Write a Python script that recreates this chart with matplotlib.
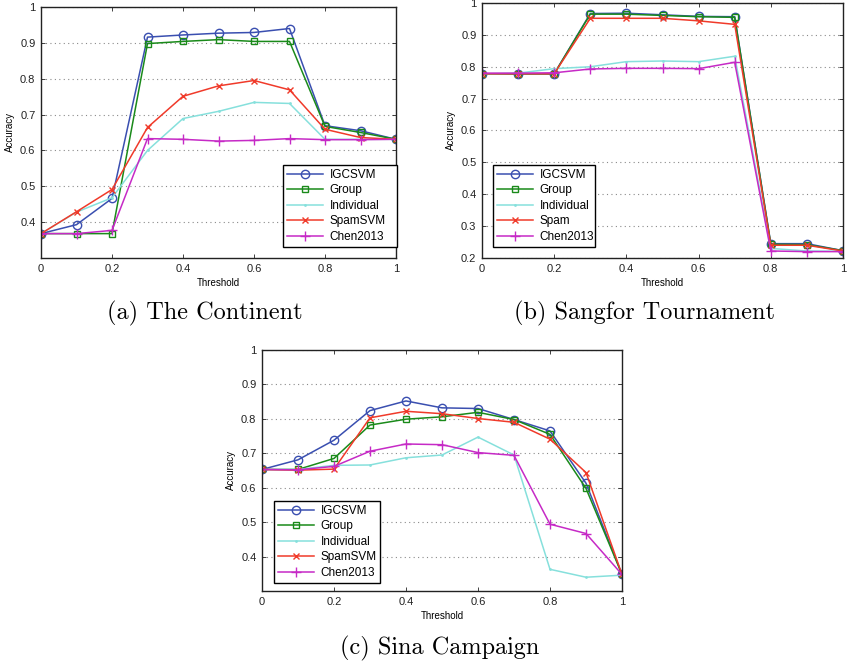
import matplotlib
matplotlib.use("Agg")
import matplotlib.pyplot as plt
import numpy as np

thresholds = [0.0, 0.1, 0.2, 0.3, 0.4, 0.5, 0.6, 0.7, 0.8, 0.9, 1.0]

# (a) The Continent
a_igcsvm = [0.368, 0.393, 0.466, 0.916, 0.922, 0.927, 0.929, 0.940, 0.669, 0.655, 0.631]
a_group = [0.368, 0.368, 0.368, 0.898, 0.904, 0.909, 0.904, 0.904, 0.667, 0.650, 0.631]
a_indiv = [0.368, 0.428, 0.468, 0.600, 0.689, 0.709, 0.734, 0.731, 0.631, 0.631, 0.631]
a_spam = [0.368, 0.429, 0.491, 0.664, 0.751, 0.780, 0.795, 0.769, 0.659, 0.636, 0.631]
a_chen = [0.368, 0.368, 0.377, 0.633, 0.631, 0.626, 0.628, 0.633, 0.630, 0.630, 0.631]

# (b) Sangfor Tournament
b_igcsvm = [0.778, 0.778, 0.778, 0.967, 0.968, 0.963, 0.958, 0.957, 0.245, 0.245, 0.223]
b_group = [0.778, 0.778, 0.778, 0.965, 0.965, 0.961, 0.957, 0.955, 0.243, 0.242, 0.223]
b_indiv = [0.778, 0.780, 0.794, 0.800, 0.816, 0.818, 0.816, 0.833, 0.230, 0.222, 0.221]
b_spam = [0.778, 0.778, 0.778, 0.952, 0.952, 0.952, 0.944, 0.933, 0.240, 0.240, 0.222]
b_chen = [0.780, 0.780, 0.781, 0.793, 0.795, 0.795, 0.794, 0.814, 0.222, 0.220, 0.220]

# (c) Sina Campaign
c_igcsvm = [0.653, 0.681, 0.738, 0.824, 0.852, 0.832, 0.830, 0.798, 0.765, 0.613, 0.348]
c_group = [0.653, 0.653, 0.685, 0.782, 0.799, 0.806, 0.819, 0.798, 0.755, 0.598, 0.348]
c_indiv = [0.653, 0.653, 0.665, 0.666, 0.687, 0.695, 0.747, 0.695, 0.363, 0.340, 0.346]
c_spam = [0.653, 0.651, 0.654, 0.803, 0.822, 0.815, 0.801, 0.790, 0.741, 0.644, 0.348]
c_chen = [0.653, 0.652, 0.662, 0.706, 0.727, 0.725, 0.702, 0.694, 0.494, 0.467, 0.348]

labels_ac = ["IGCSVM", "Group", "Individual", "SpamSVM", "Chen2013"]
labels_b = ["IGCSVM", "Group", "Individual", "Spam", "Chen2013"]
captions = ["(a) The Continent", "(b) Sangfor Tournament", "(c) Sina Campaign"]

colors = ["#3a4fb0", "#1a8a1a", "#86e0dc", "#f03a2a", "#c62ac6"]
markers = ["o", "s", ".", "x", "+"]
msizes = [6, 5, 2, 5, 7]

plt.rcParams["font.family"] = ["Liberation Sans", "DejaVu Sans"]

fig = plt.figure(figsize=(8.48, 6.64), dpi=100)

W, H = 848.0, 664.0
def rect(l, r, t, b):
    return [l / W, 1 - b / H, (r - l) / W, (b - t) / H]

panels = [
    dict(rect=rect(41, 396, 7, 258), ylim=(0.3, 1.0), yticks=np.arange(0.4, 1.01, 0.1),
         series=[a_igcsvm, a_group, a_indiv, a_spam, a_chen], labels=labels_ac,
         leg=rect(283, 397, 163, 247), cap=(205, 313)),
    dict(rect=rect(482, 843, 3, 258), ylim=(0.2, 1.0), yticks=np.arange(0.2, 1.01, 0.1),
         series=[b_igcsvm, b_group, b_indiv, b_spam, b_chen], labels=labels_b,
         leg=rect(493, 595, 163, 247), cap=(645, 313)),
    dict(rect=rect(262, 622, 350, 591), ylim=(0.3, 1.0), yticks=np.arange(0.4, 1.01, 0.1),
         series=[c_igcsvm, c_group, c_indiv, c_spam, c_chen], labels=labels_ac,
         leg=rect(274, 380, 500, 583), cap=(440, 648)),
]

for p, cap in zip(panels, captions):
    ax = fig.add_axes(p["rect"])
    for s, lab, col, mk, ms in zip(p["series"], p["labels"], colors, markers, msizes):
        ax.plot(thresholds, s, color=col, marker=mk, markersize=ms, markerfacecolor="none",
                markeredgecolor=col, markeredgewidth=1.0, linewidth=1.1, label=lab)
    ax.set_xlim(0, 1)
    ax.set_ylim(*p["ylim"])
    ax.set_xticks(np.arange(0, 1.01, 0.2))
    ax.set_xticklabels(["0", "0.2", "0.4", "0.6", "0.8", "1"])
    ax.set_yticks(p["yticks"])
    ax.set_yticklabels(["%g" % round(v, 1) for v in p["yticks"]])
    ax.yaxis.grid(True, linestyle=(0, (1, 3)), color="#8a8a8a", linewidth=0.8)
    ax.tick_params(direction="in", top=True, right=True, labelsize=8, length=3,
                   width=0.6, pad=4, colors="#222222")
    for sp in ax.spines.values():
        sp.set_linewidth(1.0)
        sp.set_color("#222222")
    ax.set_xlabel("Threshold", fontsize=7, labelpad=3)
    ax.set_ylabel("Accuracy", fontsize=7, labelpad=4)
    lr = p["leg"]
    leg = ax.legend(loc="lower left", bbox_to_anchor=(lr[0], lr[1], lr[2], lr[3]),
                    bbox_transform=fig.transFigure, mode="expand", fontsize=8.5,
                    fancybox=False, framealpha=1, edgecolor="black", handlelength=3.0,
                    borderpad=0.35, labelspacing=0.3, handletextpad=0.6, borderaxespad=0)
    leg.get_frame().set_linewidth(1.0)
    cx, cy = p["cap"]
    fig.text(cx / W, 1 - cy / H, cap, ha="center", va="center", fontsize=17.5,
             family=["cmr10", "DejaVu Serif"])

fig.savefig("out.png", dpi=100)
